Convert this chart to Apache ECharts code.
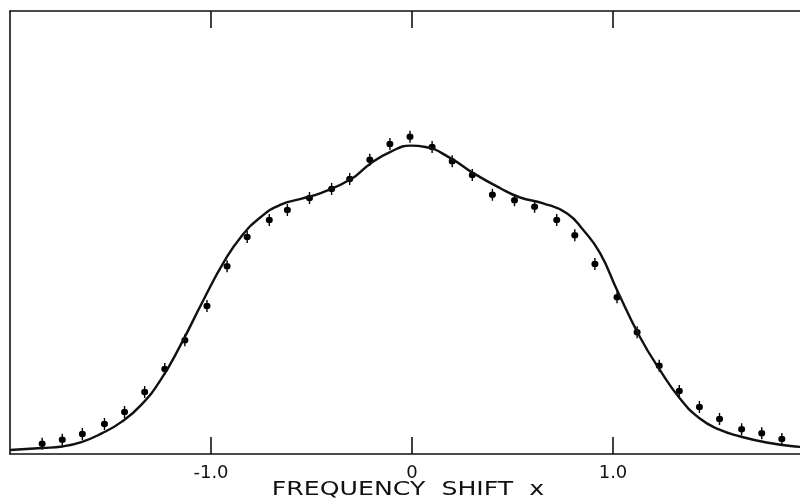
<!DOCTYPE html>
<html>
<head>
<meta charset="utf-8">
<script src="https://cdn.jsdelivr.net/npm/echarts@6/dist/echarts.min.js"></script>
<style>
  html, body { margin: 0; padding: 0; background: #fff; }
  #chart { width: 800px; height: 502px; }
</style>
</head>
<body>
<div id="chart"></div>
<script>
// measured points (frequency shift x, relative intensity)
const pointX = [-1.84, -1.74, -1.64, -1.53, -1.43, -1.33, -1.23, -1.13, -1.02, -0.92,
                -0.82, -0.71, -0.62, -0.51, -0.40, -0.31, -0.21, -0.11, -0.01, 0.10,
                0.20, 0.30, 0.40, 0.51, 0.61, 0.72, 0.81, 0.91, 1.02, 1.12,
                1.23, 1.33, 1.43, 1.53, 1.64, 1.74, 1.84];
const pointY = [2.3, 3.2, 4.5, 6.8, 9.5, 14.0, 19.2, 25.7, 33.4, 42.4,
                49.0, 52.8, 55.1, 57.8, 59.8, 62.1, 66.4, 70.0, 71.6, 69.3,
                66.1, 63.0, 58.5, 57.3, 55.8, 52.8, 49.4, 42.9, 35.4, 27.5,
                19.9, 14.2, 10.6, 7.9, 5.6, 4.7, 3.4];

// theoretical curve
const curveX = [-2.0, -1.84, -1.74, -1.645, -1.546, -1.447, -1.347, -1.248, -1.149, -1.035,
                -0.935, -0.851, -0.752, -0.653, -0.553, -0.454, -0.305, -0.206, -0.107, -0.007,
                0.067, 0.191, 0.305, 0.439, 0.538, 0.653, 0.772, 0.851, 0.935, 1.02,
                1.134, 1.233, 1.332, 1.432, 1.53, 1.63, 1.764, 1.928, 2.0];
const curveY = [0.9, 1.35, 1.7, 2.7, 4.6, 7.2, 11.1, 16.9, 24.8, 35.0,
                43.4, 49.0, 53.5, 56.3, 57.6, 58.9, 62.0, 65.6, 68.2, 69.6,
                69.3, 66.8, 63.4, 60.0, 57.9, 56.6, 54.3, 50.6, 45.4, 37.0,
                26.4, 19.0, 12.6, 8.0, 5.5, 4.0, 2.6, 1.6, 1.4];

const tickValues = [-1, 0, 1];
const tickLabels = ['-1.0', '0', '1.0'];

const ink = '#111';
const chart = echarts.init(document.getElementById('chart'));

const axisBase = {
  type: 'value',
  min: -2,
  max: 2,
  interval: 1,
  splitLine: { show: false },
  axisLine: { show: true, onZero: false, lineStyle: { color: ink, width: 1.6 } },
  axisTick: {
    show: true, inside: true, length: 17,
    customValues: tickValues,
    lineStyle: { color: ink, width: 1.6 }
  }
};

chart.setOption({
  animation: false,
  backgroundColor: '#fff',
  grid: { left: 10, top: 11, width: 804, height: 443, outerBoundsMode: 'none' },
  xAxis: [
    Object.assign({}, axisBase, {
      position: 'bottom',
      axisLabel: {
        customValues: tickValues,
        margin: 10,
        color: ink,
        fontSize: 18,
        fontFamily: 'DejaVu Sans',
        formatter: v => tickLabels[tickValues.indexOf(v)] ?? ''
      }
    }),
    Object.assign({}, axisBase, {
      position: 'top',
      axisLabel: { show: false }
    })
  ],
  yAxis: {
    type: 'value',
    min: 0,
    max: 100,
    splitLine: { show: false },
    axisTick: { show: false },
    axisLabel: { show: false },
    axisLine: { show: true, onZero: false, lineStyle: { color: ink, width: 1.6 } }
  },
  graphic: [{
    type: 'text',
    x: 408,
    y: 480,
    scaleX: 1.26,
    style: {
      text: 'FREQUENCY  SHIFT  x',
      x: 0,
      y: 0,
      textAlign: 'center',
      textVerticalAlign: 'top',
      fill: ink,
      fontSize: 20,
      fontFamily: 'DejaVu Sans'
    }
  }],
  series: [
    {
      type: 'line',
      data: curveX.map((x, i) => [x, curveY[i]]),
      smooth: 0.5,
      showSymbol: false,
      lineStyle: { color: ink, width: 2.4 }
    },
    {
      type: 'scatter',
      data: pointX.map((x, i) => [x, pointY[i]]),
      // dot with a short vertical error bar
      symbol: 'path://M-0.7,-6.5 L0.7,-6.5 L0.7,6.5 L-0.7,6.5 Z M0,-3.5 A3.5,3.5 0 0 1 0,3.5 A3.5,3.5 0 0 1 0,-3.5 Z',
      symbolSize: [7, 12],
      itemStyle: { color: '#000', opacity: 1 }
    }
  ]
});
</script>
</body>
</html>
